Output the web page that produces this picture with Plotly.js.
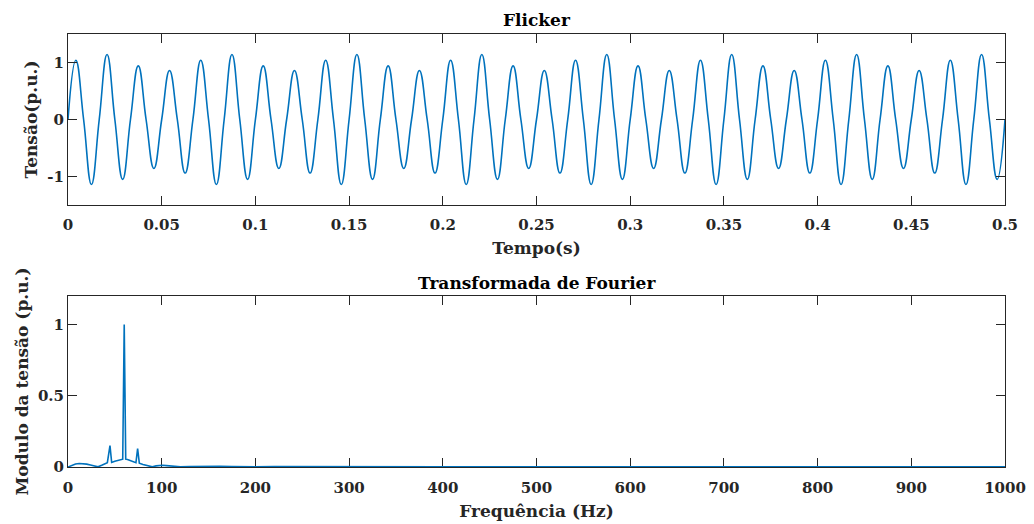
<!DOCTYPE html>
<html>
<head>
<meta charset="utf-8">
<script src="https://cdn.plot.ly/plotly-3.0.1.min.js"></script>
<style>html,body{margin:0;padding:0;background:#fff;}#chart{width:1034px;height:524px;}</style>
</head>
<body>
<div id="chart"></div>
<script>
// Flicker waveform: values at every quarter cycle of 60 Hz (zero crossings and peaks)
const timeStart = 0;
const timeStep = 1 / 240; // seconds between samples (quarter cycle)
const voltage = [
  0, 1.04, 0, -1.14, 0, 1.14, 0, -1.05, 0, 0.94, 0, -0.86, 0, 0.86, 0, -0.94,
  0, 1.04, 0, -1.14, 0, 1.14, 0, -1.05, 0, 0.94, 0, -0.86, 0, 0.86, 0, -0.94,
  0, 1.04, 0, -1.14, 0, 1.14, 0, -1.05, 0, 0.94, 0, -0.86, 0, 0.86, 0, -0.94,
  0, 1.04, 0, -1.14, 0, 1.14, 0, -1.05, 0, 0.94, 0, -0.86, 0, 0.86, 0, -0.94,
  0, 1.04, 0, -1.14, 0, 1.14, 0, -1.05, 0, 0.94, 0, -0.86, 0, 0.86, 0, -0.94,
  0, 1.04, 0, -1.14, 0, 1.14, 0, -1.05, 0, 0.94, 0, -0.86, 0, 0.86, 0, -0.94,
  0, 1.04, 0, -1.14, 0, 1.14, 0, -1.05, 0, 0.94, 0, -0.86, 0, 0.86, 0, -0.94,
  0, 1.04, 0, -1.14, 0, 1.14, 0, -1.05,
  0
];

// Fourier transform magnitude
const freqHz = [0, 4, 8, 12, 16, 20, 24, 28, 32, 36, 40, 42, 44.8, 46.6, 50, 54, 58.4, 60, 61.6, 63.5, 67, 70, 72.5, 74.3, 76.1, 80, 85, 90, 94, 97, 101, 105, 110, 115, 120, 130, 140, 150, 162, 175, 190, 200, 220, 250, 280, 300, 350, 400, 450, 500, 550, 600, 650, 700, 750, 800, 850, 900, 950, 1000];
const magnitude = [0, 0.012, 0.021, 0.025, 0.024, 0.02, 0.014, 0.007, 0.001, 0.012, 0.022, 0.03, 0.15, 0.032, 0.04, 0.048, 0.055, 1.0, 0.055, 0.052, 0.045, 0.037, 0.03, 0.13, 0.027, 0.018, 0.008, 0.001, 0.008, 0.011, 0.012, 0.01, 0.006, 0.002, 0.001, 0.003, 0.005, 0.004, 0.005, 0.003, 0.001, 0.002, 0.003, 0.002, 0.001, 0.002, 0.001, 0.002, 0.001, 0.001, 0.002, 0.001, 0.001, 0.001, 0.001, 0.001, 0.001, 0.001, 0.001, 0.001];

const topYTicks = [-1, 0, 1];
const topYTickText = ['-1', '0', '1'];
const botYTicks = [0, 0.5, 1];
const botYTickText = ['0', '0.5', '1'];

const lineBlue = '#0072BD';
const axisGray = '#262626';
const fam = 'DejaVu Serif, serif';
const tickFont = {family: fam, size: 15, color: axisGray, weight: 'bold'};
const titleFont = {family: fam, size: 17, color: axisGray, weight: 'bold'};

function axisBase() {
  return {
    showgrid: false, zeroline: false, showline: true, linecolor: axisGray, linewidth: 1,
    mirror: 'ticks', ticks: 'inside', ticklen: 9, tickcolor: axisGray, tickwidth: 1,
    tickfont: tickFont, fixedrange: true
  };
}

const traces = [
  {x0: timeStart, dx: timeStep, y: voltage, type: 'scatter', mode: 'lines',
   line: {color: lineBlue, width: 1.6, shape: 'spline', smoothing: 1.3}, xaxis: 'x', yaxis: 'y', hoverinfo: 'skip'},
  {x: freqHz, y: magnitude, type: 'scatter', mode: 'lines',
   line: {color: lineBlue, width: 1.6}, xaxis: 'x2', yaxis: 'y2', hoverinfo: 'skip'}
];

const layout = {
  width: 1034, height: 524,
  margin: {l: 68, r: 29, t: 34, b: 57},
  paper_bgcolor: '#fff', plot_bgcolor: '#fff',
  showlegend: false,
  xaxis: Object.assign(axisBase(), {
    domain: [0, 1], anchor: 'y', range: [0, 0.5], tickmode: 'linear', tick0: 0, dtick: 0.05,
    ticklabelstandoff: 6,
    title: {text: 'Tempo(s)', font: titleFont, standoff: 9}
  }),
  yaxis: Object.assign(axisBase(), {
    domain: [0.6051, 1], anchor: 'x', range: [-1.5, 1.5], tickmode: 'array',
    tickvals: topYTicks, ticktext: topYTickText, ticklabelstandoff: 0
  }),
  xaxis2: Object.assign(axisBase(), {
    domain: [0, 1], anchor: 'y2', range: [0, 1000], tickmode: 'linear', tick0: 0, dtick: 100,
    ticklabelstandoff: 7, layer: 'below traces',
    title: {text: 'Frequência (Hz)', font: titleFont, standoff: 9}
  }),
  yaxis2: Object.assign(axisBase(), {
    domain: [0, 0.3949], anchor: 'x2', range: [0, 1.2], tickmode: 'array',
    tickvals: botYTicks, ticktext: botYTickText, ticklabelstandoff: 0
  }),
  annotations: [
    {text: 'Flicker', xref: 'paper', yref: 'paper', x: 0.5, y: 1.0323, xanchor: 'center', yanchor: 'middle',
     showarrow: false, font: {family: fam, size: 17, color: '#000', weight: 'bold'}},
    {text: 'Transformada de Fourier', xref: 'paper', yref: 'paper', x: 0.5, y: 0.4249, xanchor: 'center', yanchor: 'middle',
     showarrow: false, font: {family: fam, size: 17, color: '#000', weight: 'bold'}},
    {text: 'Tensão(p.u.)', xref: 'paper', yref: 'paper', x: -0.0395, y: 0.8025, xanchor: 'center', yanchor: 'middle',
     textangle: -90, showarrow: false, font: titleFont},
    {text: 'Modulo da tensão (p.u.)', xref: 'paper', yref: 'paper', x: -0.0491, y: 0.1975, xanchor: 'center', yanchor: 'middle',
     textangle: -90, showarrow: false, font: titleFont}
  ]
};

Plotly.newPlot('chart', traces, layout, {staticPlot: true, displayModeBar: false});
</script>
</body>
</html>
